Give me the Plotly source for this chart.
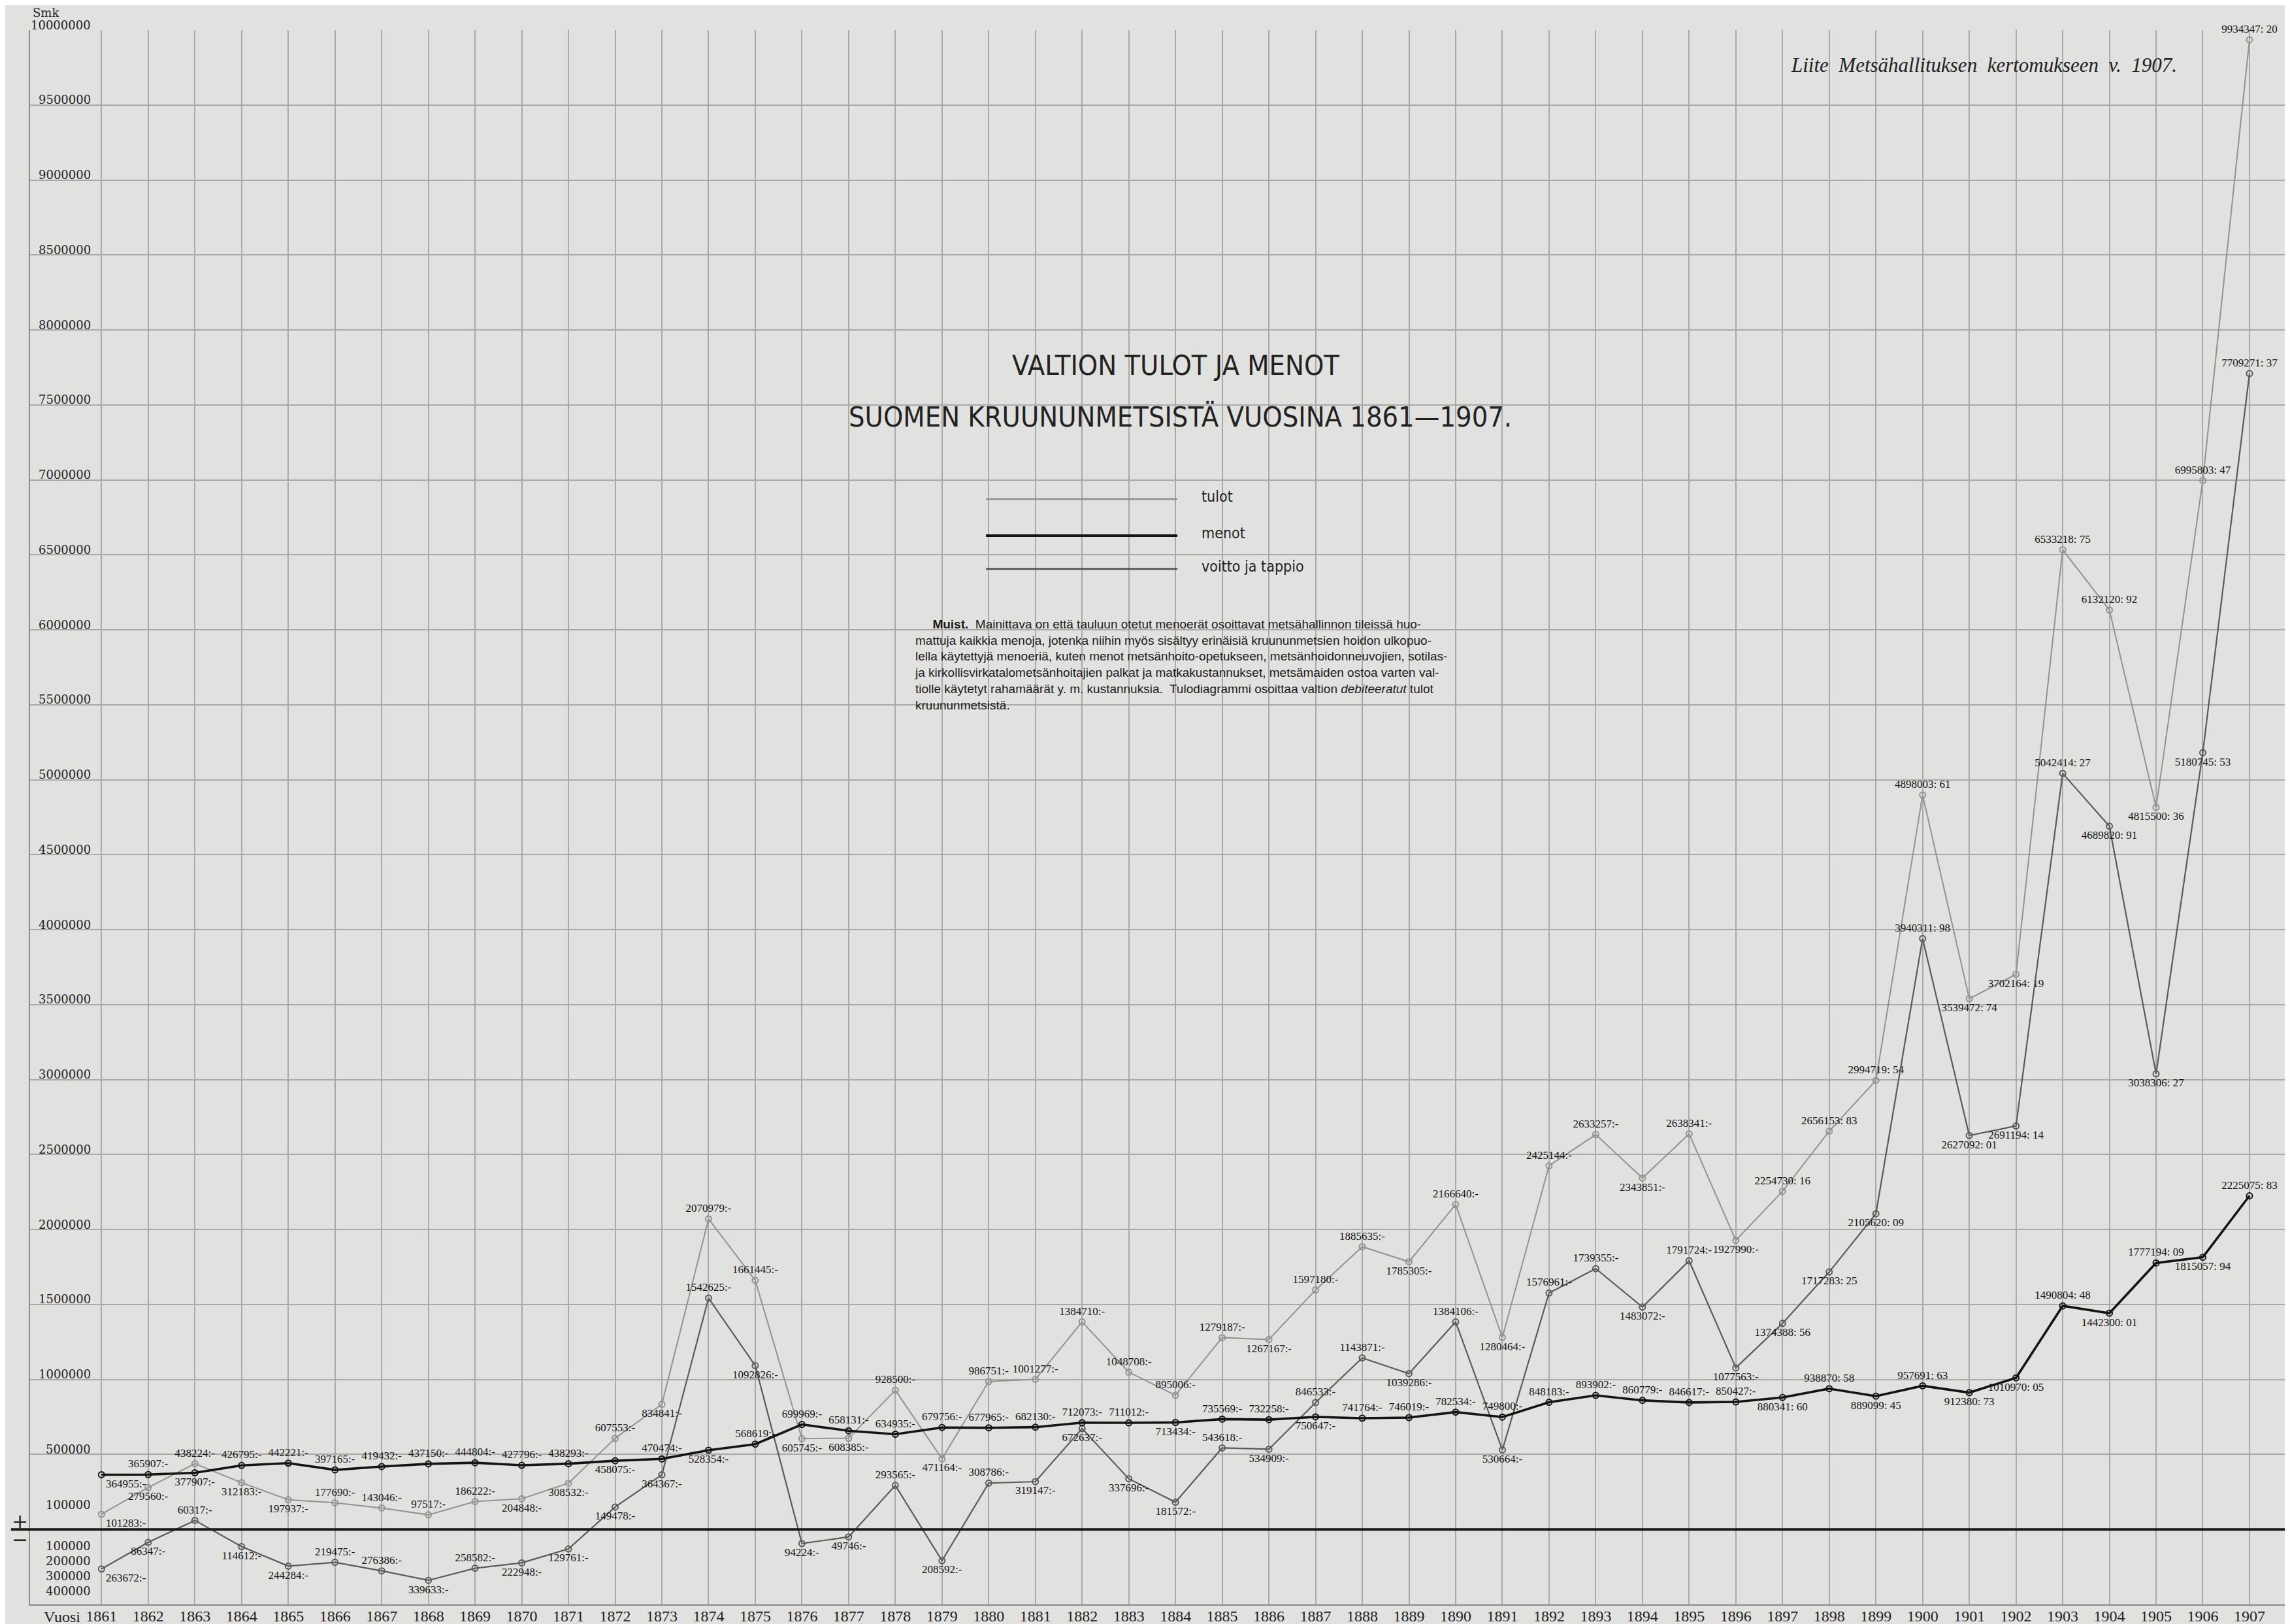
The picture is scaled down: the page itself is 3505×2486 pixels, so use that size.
import plotly.graph_objects as go

# ---------------- data ----------------
years = list(range(1861, 1908))

tulot = [101283, 279560, 438224, 312183, 197937, 177690, 143046, 97517, 186222, 204848,
         308532, 607553, 834841, 2070979, 1661445, 605745, 608385, 928500, 471164, 986751,
         1001277, 1384710, 1048708, 895006, 1279187, 1267167, 1597180, 1885635, 1785305, 2166640,
         1280464, 2425144, 2633257, 2343851, 2638341, 1927990, 2254730.16, 2656153.83, 2994719.54, 4898003.61,
         3539472.74, 3702164.19, 6533218.75, 6132120.92, 4815500.36, 6995803.47, 9934347.20]

menot = [364955, 365907, 377907, 426795, 442221, 397165, 419432, 437150, 444804, 427796,
         438293, 458075, 470474, 528354, 568619, 699969, 658131, 634935, 679756, 677965,
         682130, 712073, 711012, 713434, 735569, 732258, 750647, 741764, 746019, 782534,
         749800, 848183, 893902, 860779, 846617, 850427, 880341.60, 938870.58, 889099.45, 957691.63,
         912380.73, 1010970.05, 1490804.48, 1442300.01, 1777194.09, 1815057.94, 2225075.83]

voitto = [-263672, -86347, 60317, -114612, -244284, -219475, -276386, -339633, -258582, -222948,
          -129761, 149478, 364367, 1542625, 1092826, -94224, -49746, 293565, -208592, 308786,
          319147, 672637, 337696, 181572, 543618, 534909, 846533, 1143871, 1039286, 1384106,
          530664, 1576961, 1739355, 1483072, 1791724, 1077563, 1374388.56, 1717283.25, 2105620.09, 3940311.98,
          2627092.01, 2691194.14, 5042414.27, 4689820.91, 3038306.27, 5180745.53, 7709271.37]

ytick_pos = [500000 * k for k in range(1, 21)]
ytick_small_pos = [100000]
ytick_neg = [100000, 200000, 300000, 400000]

# ---------------- label placement (style) ----------------
tulot_lp = ("br b t b b t t t t b "
            "b t b t t b b t b t "
            "t t t t t b t t b t "
            "b t t b t b t t t t "
            "b b t t b t t").split()
menot_lp = ("br t b t t t t t t t "
            "t b t b t t t t t t "
            "t t t b t t b t t t "
            "t t t t t t b t b t "
            "b b t b t b t").split()
voitto_lp = ("br b t b b t t b t b "
             "b b b t b b b t b t "
             "b b b b t b t t b t "
             "b t t b t b b b b t "
             "b b t b b b t").split()
POS = {'t': 'top center', 'b': 'bottom center', 'br': 'bottom right', 'tr': 'top right'}


def fmt(v):
    if float(v).is_integer():
        return f"{int(abs(v))}:-"
    c = round(abs(v) * 100)
    return f"{c // 100}: {c % 100:02d}"


BG = '#e1e1df'
GRID = '#a9a9a7'
LABEL_FONT = dict(family='Liberation Serif, serif', size=17, color='#141414')

fig = go.Figure()


def add_series(vals, lp, color, width, name):
    fig.add_trace(go.Scatter(
        x=years, y=vals, mode='lines+markers+text', name=name,
        line=dict(color=color, width=width),
        marker=dict(symbol='circle-open', size=9, color=color, line=dict(width=2, color=color)),
        text=[fmt(v) for v in vals],
        textposition=[POS[p] for p in lp],
        textfont=LABEL_FONT,
        cliponaxis=False,
        showlegend=False,
    ))


add_series(tulot, tulot_lp, '#929292', 2, 'tulot')
add_series(voitto, voitto_lp, '#5a5a5a', 2.2, 'voitto ja tappio')
add_series(menot, menot_lp, '#141414', 3.6, 'menot')

annotations = []
YFONT = dict(family='DejaVu Serif, serif', size=18, color='#222')
for v in ytick_pos:
    annotations.append(dict(x=1860.8, y=v, xref='x', yref='y', text=str(v), showarrow=False,
                            xanchor='right', yanchor='middle', yshift=8, font=YFONT))
for v in ytick_small_pos:
    annotations.append(dict(x=1860.8, y=v, xref='x', yref='y', text=str(v), showarrow=False,
                            xanchor='right', yanchor='middle', yshift=15, font=YFONT))
for v in ytick_neg:
    annotations.append(dict(x=1860.8, y=-v, xref='x', yref='y', text=str(v), showarrow=False,
                            xanchor='right', yanchor='middle', yshift=-2, font=YFONT))
annotations.append(dict(x=1860.8, y=ytick_pos[-1], xref='x', yref='y', text='Smk', showarrow=False,
                        xanchor='right', xshift=-48, yanchor='middle', yshift=27, font=YFONT))
annotations.append(dict(x=-0.0045, y=0, xref='paper', yref='y', text='+', showarrow=False,
                        xanchor='center', yanchor='middle', yshift=13,
                        font=dict(family='DejaVu Serif, serif', size=30, color='#222')))
annotations.append(dict(x=-0.0045, y=0, xref='paper', yref='y', text='\u2212', showarrow=False,
                        xanchor='center', yanchor='middle', yshift=-15,
                        font=dict(family='DejaVu Serif, serif', size=30, color='#222')))
annotations.append(dict(x=1860.15, y=0, xref='x', yref='paper', text='Vuosi', showarrow=False,
                        xanchor='center', yanchor='middle', yshift=-19, borderpad=0,
                        font=dict(family='Liberation Serif, serif', size=24, color='#222')))

TFONT = dict(family='DejaVu Sans Condensed, Liberation Sans Narrow, Liberation Sans, sans-serif',
             size=43, color='#222')
annotations.append(dict(x=0.5059, y=0.7871, xref='paper', yref='paper', text='VALTION TULOT JA MENOT',
                        showarrow=False, xanchor='center', yanchor='middle', font=TFONT))
annotations.append(dict(x=0.5079, y=0.7544, xref='paper', yref='paper',
                        text='SUOMEN KRUUNUNMETSISTÄ VUOSINA 1861\u20141907.',
                        showarrow=False, xanchor='center', yanchor='middle', font=TFONT))

LFONT = dict(family='DejaVu Sans Condensed, Liberation Sans Narrow, Liberation Sans, sans-serif',
             size=23, color='#222')
legend_items = [('tulot', '#8e8e8e', 2.5, 0.7021), ('menot', '#141414', 4, 0.6788),
                ('voitto ja tappio', '#4a4a4a', 2.5, 0.6577)]
shapes = []
for name, col, w, yy in legend_items:
    shapes.append(dict(type='line', xref='paper', yref='paper', x0=0.4220, x1=0.5065, y0=yy, y1=yy,
                       line=dict(color=col, width=w)))
    annotations.append(dict(x=0.5166, y=yy, xref='paper', yref='paper', text=name, showarrow=False,
                            xanchor='left', yanchor='middle', yshift=4, font=LFONT))

note = ("&nbsp;&nbsp;&nbsp;&nbsp;&nbsp;<b>Muist.</b>  Mainittava on että tauluun otetut menoerät osoittavat metsähallinnon tileissä huo-<br>"
        "mattuja kaikkia menoja, jotenka niihin myös sisältyy erinäisiä kruununmetsien hoidon ulkopuo-<br>"
        "lella käytettyjä menoeriä, kuten menot metsänhoito-opetukseen, metsänhoidonneuvojien, sotilas-<br>"
        "ja kirkollisvirkatalometsänhoitajien palkat ja matkakustannukset, metsämaiden ostoa varten val-<br>"
        "tiolle käytetyt rahamäärät y. m. kustannuksia.  Tulodiagrammi osoittaa valtion <i>debiteeratut</i> tulot<br>"
        "kruununmetsistä.")
annotations.append(dict(x=0.3900, y=0.6278, xref='paper', yref='paper', text=note, showarrow=False,
                        xanchor='left', yanchor='top', align='left',
                        font=dict(family='Liberation Sans Narrow, Liberation Sans, sans-serif', size=19, color='#1a1a1a')))

annotations.append(dict(x=0.7767, y=0.9776, xref='paper', yref='paper',
                        text='<i>Liite  Metsähallituksen  kertomukseen  v.  1907.</i>', showarrow=False,
                        xanchor='left', yanchor='middle',
                        font=dict(family='Liberation Serif, serif', size=31, color='#222')))

# zero line extending into the label column
shapes.append(dict(type='line', xref='paper', yref='y', x0=-0.0084, x1=1, y0=0, y1=0,
                   line=dict(color='#1a1a1a', width=4)))

fig.update_layout(
    width=3505, height=2486,
    margin=dict(l=38, r=0, t=38, b=38),
    paper_bgcolor=BG, plot_bgcolor=BG,
    xaxis=dict(range=[1859.47, 1907.98], tickvals=years, ticktext=[str(y) for y in years],
               showgrid=True, gridcolor=GRID, gridwidth=1.6, zeroline=False,
               showline=True, linecolor='#8a8a8a', linewidth=2, ticks='',
               ticklabelstandoff=-5,
               tickfont=dict(family='Liberation Serif, serif', size=24, color='#222')),
    yaxis=dict(range=[-500000, 10000000], tickvals=ytick_pos, showticklabels=False,
               showgrid=True, gridcolor=GRID, gridwidth=1.6, zeroline=False,
               showline=True, linecolor='#8a8a8a', linewidth=2, ticks=''),
    shapes=shapes, annotations=annotations,
)

fig.write_html("out.html")
